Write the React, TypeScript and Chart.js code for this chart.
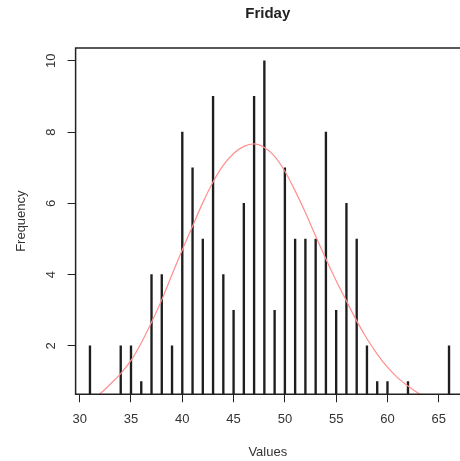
import React, { useEffect, useRef } from "react";
import { Chart, registerables } from "chart.js";

Chart.register(...registerables);

const TITLE = "Friday";
const X_LABEL = "Values";
const Y_LABEL = "Frequency";

// observed values and their frequencies
const barValues = [31, 34, 35, 36, 37, 38, 39, 40, 41, 42, 43, 44, 45, 46, 47, 48, 49, 50, 51, 52, 53, 54, 55, 56, 57, 58, 59, 60, 62, 66];
const barCounts = [2, 2, 2, 1, 4, 4, 2, 8, 7, 5, 9, 4, 3, 6, 9, 10, 3, 7, 5, 5, 5, 8, 3, 6, 5, 2, 1, 1, 1, 2];

// fitted density curve
const curveX = [31.9, 32, 33, 34, 35, 36, 37, 38, 39, 40, 41, 42, 43, 44, 45, 46, 47, 48, 49, 50, 51, 52, 53, 54, 55, 56, 57, 58, 59, 60, 61, 62, 63, 63.2];
const curveY = [0.64, 0.66, 0.93, 1.22, 1.59, 2.08, 2.66, 3.29, 4.0, 4.7, 5.36, 6.02, 6.6, 7.07, 7.4, 7.6, 7.67, 7.57, 7.32, 6.9, 6.35, 5.74, 5.08, 4.44, 3.83, 3.26, 2.7, 2.2, 1.77, 1.4, 1.1, 0.87, 0.67, 0.64];

const xTicks = [30, 35, 40, 45, 50, 55, 60, 65];
const yTicks = [2, 4, 6, 8, 10];

const X_MIN = 29.6;
const X_MAX = 67.07;
const Y_MIN = 0.64;
const Y_MAX = 10.36;

const INK = "#222222";
const TEXT = "#333333";
const FONT_FAMILY = '"Liberation Sans", Arial, Helvetica, sans-serif';

const framePlugin = {
  id: "rframe",
  afterDatasetsDraw(chart: any) {
    const { ctx, chartArea: a, scales } = chart;
    ctx.save();
    ctx.strokeStyle = INK;
    ctx.lineWidth = 1.5;
    ctx.beginPath();
    ctx.moveTo(a.right + 10, a.top);
    ctx.lineTo(a.left, a.top);
    ctx.lineTo(a.left, a.bottom);
    ctx.lineTo(a.right + 10, a.bottom);
    ctx.stroke();

    const ys = scales.y;
    ctx.fillStyle = TEXT;
    ctx.font = `13px ${FONT_FAMILY}`;
    ctx.textAlign = "center";
    ctx.textBaseline = "middle";
    yTicks.forEach((v) => {
      const py = ys.getPixelForValue(v);
      ctx.save();
      ctx.translate(a.left - 24, py);
      ctx.rotate(-Math.PI / 2);
      ctx.fillText(String(v), 0, 0);
      ctx.restore();
    });
    ctx.restore();
  },
};

export default function App() {
  const ref = useRef<HTMLCanvasElement | null>(null);

  useEffect(() => {
    if (!ref.current) return;
    const chart = new Chart(ref.current, {
      type: "bar",
      data: {
        datasets: [
          {
            type: "line",
            data: curveX.map((x, i) => ({ x, y: curveY[i] })),
            borderColor: "#ff8f8f",
            borderWidth: 1.2,
            pointRadius: 0,
            fill: false,
            cubicInterpolationMode: "monotone",
            order: 0,
          } as any,
          {
            type: "bar",
            data: barValues.map((x, i) => ({ x, y: barCounts[i] })),
            backgroundColor: "#1e1e1e",
            borderWidth: 0,
            barThickness: 1.7,
            order: 1,
          } as any,
        ],
      },
      options: {
        responsive: false,
        animation: false,
        devicePixelRatio: 1,
        layout: { padding: 0 },
        plugins: {
          legend: { display: false },
          tooltip: { enabled: false },
          title: {
            display: true,
            text: TITLE,
            fullSize: false,
            color: INK,
            font: { family: FONT_FAMILY, size: 15, weight: "bold" },
            padding: { top: 5, bottom: 25 },
          },
        },
        scales: {
          x: {
            type: "linear",
            offset: false,
            min: X_MIN,
            max: X_MAX,
            afterBuildTicks: (s: any) => {
              s.ticks = xTicks.map((v) => ({ value: v }));
            },
            afterFit: (s: any) => {
              s.height = 66.7;
            },
            grid: { offset: false, drawOnChartArea: false, drawTicks: true, tickLength: 8, color: INK, lineWidth: 1 },
            border: { display: false },
            ticks: {
              autoSkip: false,
              maxRotation: 0,
              padding: 9,
              color: TEXT,
              font: { family: FONT_FAMILY, size: 13 },
            },
            title: {
              display: true,
              text: X_LABEL,
              color: TEXT,
              font: { family: FONT_FAMILY, size: 13 },
              padding: { top: 0, bottom: 1.2 },
            },
          },
          y: {
            type: "linear",
            min: Y_MIN,
            max: Y_MAX,
            afterBuildTicks: (s: any) => {
              s.ticks = yTicks.map((v) => ({ value: v }));
            },
            afterFit: (s: any) => {
              s.width = 75.6;
            },
            grid: { drawOnChartArea: false, drawTicks: true, tickLength: 8, color: INK, lineWidth: 1 },
            border: { display: false },
            ticks: { display: false },
            title: {
              display: true,
              text: Y_LABEL,
              color: TEXT,
              font: { family: FONT_FAMILY, size: 13 },
              padding: { top: 13.2, bottom: 0 },
            },
          },
        },
      } as any,
      plugins: [framePlugin],
    });
    return () => chart.destroy();
  }, []);

  return (
    <div style={{ position: "absolute", left: 0, top: 0, width: 460, height: 461, background: "#fff" }}>
      <canvas ref={ref} width={460} height={461} style={{ display: "block" }} />
    </div>
  );
}
